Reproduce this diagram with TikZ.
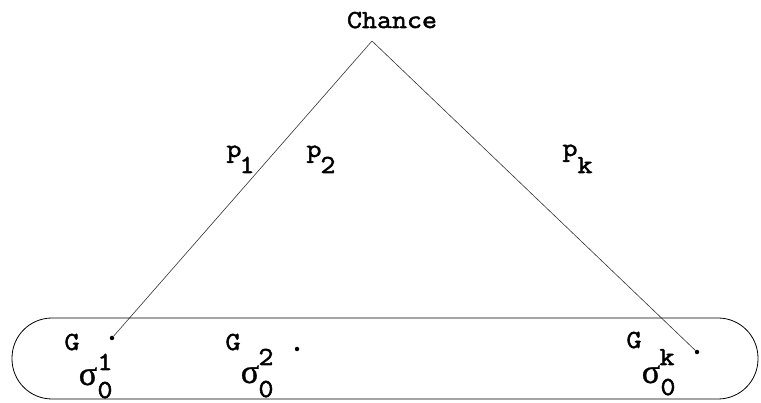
\documentclass[tikz,border=0pt]{standalone}
\usepackage{fontspec}
\newfontfamily\typew[FakeStretch=1.12,FakeBold=2]{Latin Modern Mono}
\newfontfamily\sigfont[FakeBold=1]{Liberation Serif}
\begin{document}
\begin{tikzpicture}[x=1pt,y=-1pt,
  lbl/.style={inner sep=0pt,anchor=base,font=\typew\fontsize{26}{26}\selectfont},
  sig/.style={inner sep=0pt,anchor=base,font=\sigfont\fontsize{34}{34}\selectfont},
  leaf/.style={circle,fill=black,inner sep=0pt,minimum size=4.5pt},
  edge/.style={line width=0.6pt,black!80},
  info/.style={line width=0.8pt,rounded corners=40pt}]
\useasboundingbox (0,0) rectangle (761,403);
% title
\node[lbl] (chance) at (392,28) {Chance};
\coordinate (apex) at (372,41);
% leaves
\node[leaf] (d1) at (112,338) {};
\node[leaf] (d2) at (297,349) {};
\node[leaf] (dk) at (697,352) {};
\draw[edge] (apex) -- (d1);
\draw[edge] (apex) -- (dk);
% probabilities
\node[lbl] (p1) at (234,157) {p};
\node[lbl] (p1s) at (247,173) {1};
\node[lbl] (p2) at (314,157) {p};
\node[lbl] (p2s) at (328,173) {2};
\node[lbl] (pk) at (570,156) {p};
\node[lbl] (pks) at (585,173) {k};
% information set
\draw[info] (12,318) rectangle (758,399);
% strategies
\node[lbl] (g1) at (72,350) {G};
\node[sig] (s1) at (88,385) {σ};
\node[lbl] (s1u) at (105,370) {1};
\node[lbl] (s1d) at (105,398) {0};
\node[lbl] (g2) at (233,350) {G};
\node[sig] (s2) at (250,383) {σ};
\node[lbl] (s2u) at (266,365) {2};
\node[lbl] (s2d) at (266,397) {0};
\node[lbl] (gk) at (634,348) {G};
\node[sig] (sk) at (651,383) {σ};
\node[lbl] (sku) at (667,365) {k};
\node[lbl] (skd) at (668,395) {0};
\end{tikzpicture}
\end{document}
